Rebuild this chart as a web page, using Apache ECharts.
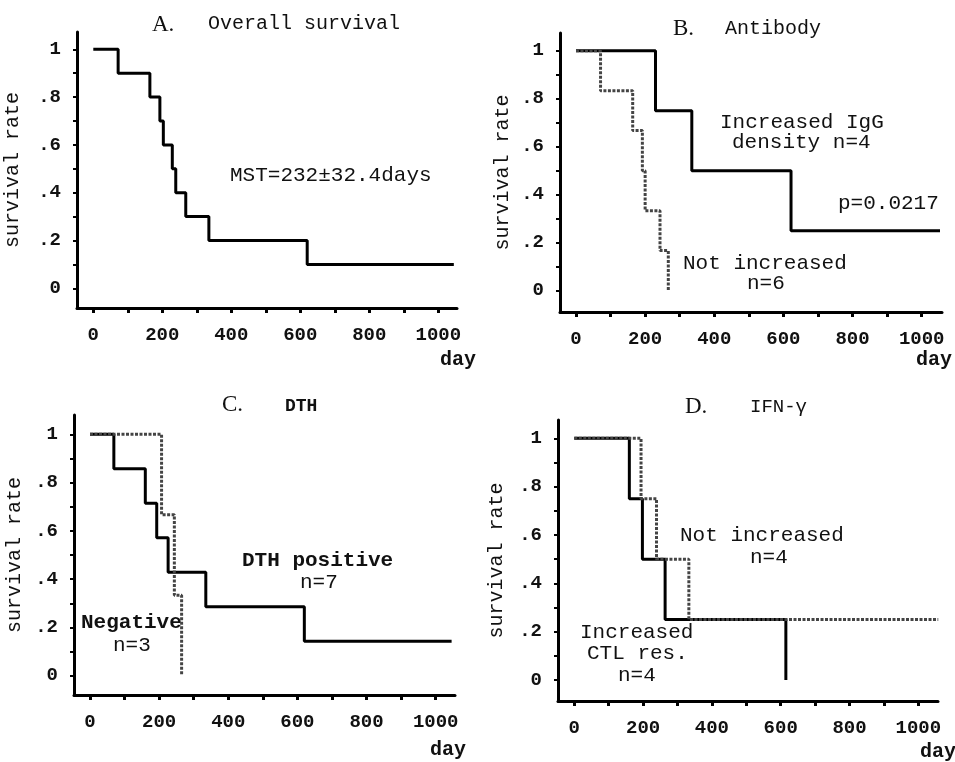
<!DOCTYPE html>
<html>
<head>
<meta charset="utf-8">
<script src="https://cdn.jsdelivr.net/npm/echarts@6/dist/echarts.min.js"></script>
<style>
  html, body { margin: 0; padding: 0; background: #fff; }
  #chart { width: 955px; height: 762px; }
</style>
</head>
<body>
<div id="chart"></div>
<script>
// 数据
var aDays = [0, 72, 164, 193, 203, 229, 239, 268, 335, 620, 1045]
var aSurv = [1, 0.9, 0.8, 0.7, 0.6, 0.5, 0.4, 0.3, 0.2, 0.1, 0.1]

var bIgGDays = [0, 230, 335, 622, 1053]
var bIgGSurv = [1, 0.75, 0.5, 0.25, 0.25]
var bNotDays = [0, 71, 164, 192, 200, 243, 267]
var bNotSurv = [1, 0.833, 0.667, 0.5, 0.333, 0.167, 0]

var cPosDays = [0, 69, 160, 193, 226, 335, 620, 1046]
var cPosSurv = [1, 0.857, 0.714, 0.571, 0.429, 0.286, 0.143, 0.143]
var cNegDays = [0, 207, 244, 265]
var cNegSurv = [1, 0.667, 0.333, 0]

var dCtlDays = [0, 160, 198, 264, 615]
var dCtlSurv = [1, 0.75, 0.5, 0.25, 0]
var dNotDays = [0, 194, 239, 333, 1058]
var dNotSurv = [1, 0.75, 0.5, 0.25, 0.25]

var xLabelValues = [0, 200, 400, 600, 800, 1000]
var xTickValues = [0, 100, 200, 300, 400, 500, 600, 700, 800, 900, 1000]
var yLabelValues = [0, 0.2, 0.4, 0.6, 0.8, 1]
var yTickValues = [0, 0.1, 0.2, 0.3, 0.4, 0.5, 0.6, 0.7, 0.8, 0.9, 1]

var mono = 'Liberation Mono'
var serif = 'Liberation Serif'

// 每个小图的像素位置
var frames = [
  { x0: 93.3, x1000: 438.3, y0: 288.3, y1: 49.3, left: 77, right: 457, top: 32, bottom: 308, nameGap: 54 },
  { x0: 576, x1000: 921.7, y0: 290.7, y1: 50.7, left: 560, right: 942, top: 33, bottom: 312, nameGap: 47 },
  { x0: 90, x1000: 435.7, y0: 675.7, y1: 434.3, left: 74, right: 455, top: 415, bottom: 695, nameGap: 49 },
  { x0: 574.3, x1000: 918.3, y0: 680, y1: 438.3, left: 558, right: 938, top: 420, bottom: 701, nameGap: 51 }
]

function pairs(xs, ys) {
  return xs.map(function (x, i) { return [x, ys[i]] })
}

var grids = [], xAxes = [], yAxes = []
frames.forEach(function (f, i) {
  var sx = (f.x1000 - f.x0) / 1000
  var sy = f.y0 - f.y1
  grids.push({ left: f.left, top: f.top, width: f.right - f.left, height: f.bottom - f.top, outerBoundsMode: 'none' })
  xAxes.push({
    type: 'value', gridIndex: i,
    min: (f.left - f.x0) / sx, max: (f.right - f.x0) / sx,
    splitLine: { show: false },
    axisLine: { onZero: false, lineStyle: { color: '#000', width: 3 } },
    axisTick: { customValues: xTickValues, length: 5, lineStyle: { color: '#000', width: 3 } },
    axisLabel: {
      customValues: xLabelValues, margin: 18, color: '#111', fontFamily: mono, fontSize: 19, fontWeight: 'bold',
      formatter: function (v) { return String(Math.round(v)) }
    }
  })
  yAxes.push({
    type: 'value', gridIndex: i,
    min: -(f.bottom - f.y0) / sy, max: 1 + (f.y1 - f.top) / sy,
    name: 'survival rate', nameLocation: 'middle', nameGap: f.nameGap,
    nameTextStyle: { color: '#111', fontFamily: mono, fontSize: 20 },
    splitLine: { show: false },
    axisLine: { onZero: false, lineStyle: { color: '#000', width: 3 } },
    axisTick: { customValues: yTickValues, length: 4, lineStyle: { color: '#000', width: 2 } },
    axisLabel: {
      customValues: yLabelValues, margin: 16, color: '#111', fontFamily: mono, fontSize: 19, fontWeight: 'bold',
      formatter: function (v) {
        if (v === 0 || v === 1) return String(v)
        return '.' + Math.round(v * 10)
      }
    }
  })
})

function solid(i, data) {
  return { type: 'line', xAxisIndex: i, yAxisIndex: i, step: 'end', symbol: 'none', data: data,
    lineStyle: { color: '#000', width: 3 } }
}
function dotted(i, data) {
  return { type: 'line', xAxisIndex: i, yAxisIndex: i, step: 'end', symbol: 'none', data: data,
    lineStyle: { color: '#444', width: 3, type: [3, 1.5] } }
}

function txt(x, y, s, opt) {
  opt = opt || {}
  return {
    type: 'text', left: x, top: y - (opt.size || 20) / 2,
    style: { text: s, fill: '#111', font: (opt.weight || 'normal') + ' ' + (opt.size || 20) + 'px "' + (opt.family || mono) + '"',
      textAlign: opt.align || 'left' }
  }
}

var texts = [
  // 标题
  txt(152, 25, 'A.', { family: serif, size: 23 }), txt(208, 24, 'Overall survival'),
  txt(673, 29, 'B.', { family: serif, size: 23 }), txt(725, 29, 'Antibody'),
  txt(222, 405, 'C.', { family: serif, size: 23 }), txt(285, 406, 'DTH', { size: 18, weight: 'bold' }),
  txt(685, 407, 'D.', { family: serif, size: 23 }), txt(750, 407, 'IFN-γ', { size: 19 }),
  // 注释
  txt(230, 175, 'MST=232±32.4days', { size: 21 }),
  txt(720, 122, 'Increased IgG', { size: 21 }),
  txt(732, 142, 'density n=4', { size: 21 }),
  txt(838, 203, 'p=0.0217', { size: 21 }),
  txt(683, 263, 'Not increased', { size: 21 }),
  txt(747, 283, 'n=6', { size: 21 }),
  txt(242, 561, 'DTH positive', { size: 21, weight: 'bold' }),
  txt(300, 582, 'n=7', { size: 21 }),
  txt(81, 623, 'Negative', { size: 21, weight: 'bold' }),
  txt(113, 645, 'n=3', { size: 21 }),
  txt(680, 535, 'Not increased', { size: 21 }),
  txt(750, 557, 'n=4', { size: 21 }),
  txt(580, 632, 'Increased', { size: 21 }),
  txt(587, 653, 'CTL res.', { size: 21 }),
  txt(618, 675, 'n=4', { size: 21 }),
  // day
  txt(440, 360, 'day', { size: 20, weight: 'bold' }),
  txt(916, 360, 'day', { size: 20, weight: 'bold' }),
  txt(430, 750, 'day', { size: 20, weight: 'bold' }),
  txt(920, 752, 'day', { size: 20, weight: 'bold' })
]

var myChart = echarts.init(document.getElementById('chart'))

var option = {
  animation: false,
  backgroundColor: '#fff',
  grid: grids,
  xAxis: xAxes,
  yAxis: yAxes,
  graphic: texts,
  series: [
    solid(0, pairs(aDays, aSurv)),
    solid(1, pairs(bIgGDays, bIgGSurv)),
    dotted(1, pairs(bNotDays, bNotSurv)),
    solid(2, pairs(cPosDays, cPosSurv)),
    dotted(2, pairs(cNegDays, cNegSurv)),
    solid(3, pairs(dCtlDays, dCtlSurv)),
    dotted(3, pairs(dNotDays, dNotSurv))
  ]
}

myChart.setOption(option)
</script>
</body>
</html>
